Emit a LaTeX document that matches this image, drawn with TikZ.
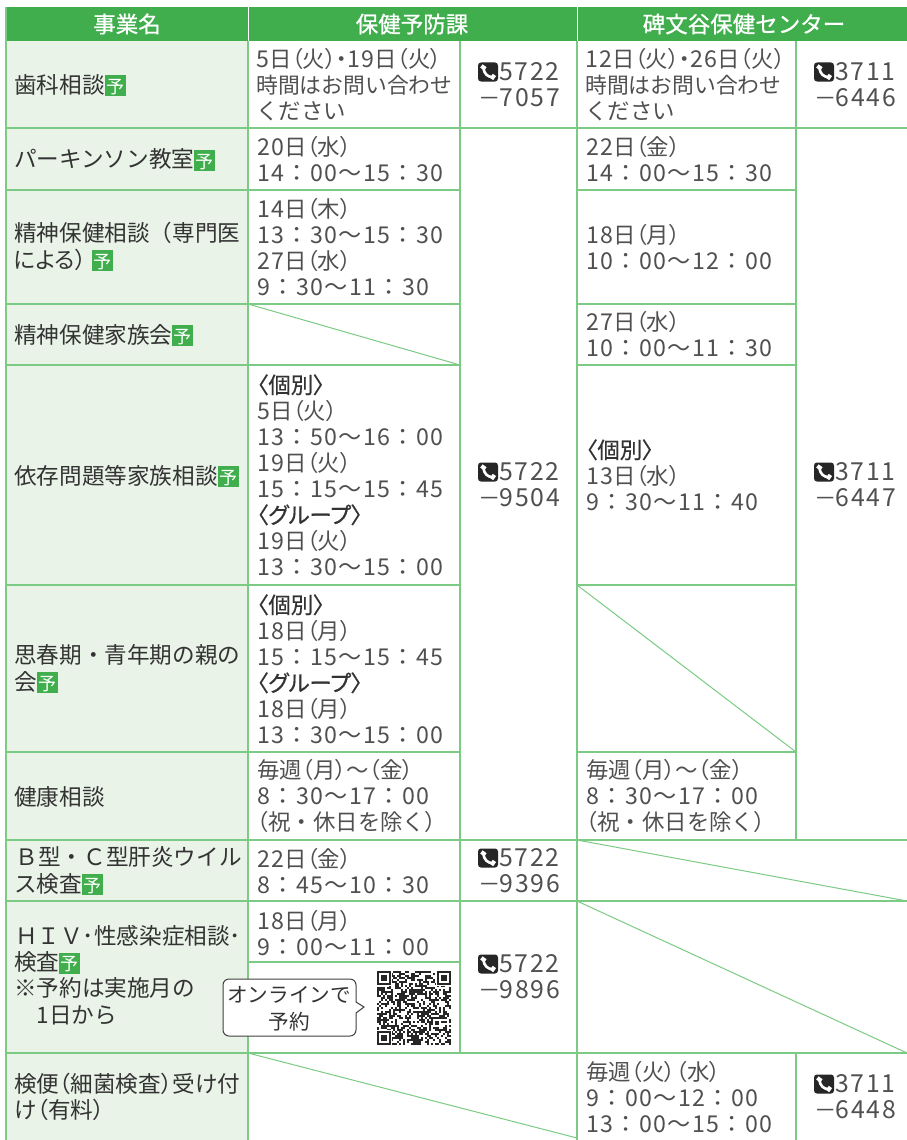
\documentclass[tikz,border=0pt]{standalone}
\usepackage{fontspec}
\setmainfont{Noto Sans CJK JP}
\newfontfamily\cjk{Noto Sans CJK JP}
\newfontfamily\palt[RawFeature=+palt]{Noto Sans CJK JP}
\newfontfamily\paltb[RawFeature=+palt,FakeBold=0.6]{Noto Sans CJK JP}
\newfontfamily\headf[FakeBold=0.8]{Noto Sans CJK JP}
\newfontfamily\numf[LetterSpace=6]{Noto Sans CJK JP}
\newfontfamily\telf[LetterSpace=7]{Noto Sans CJK JP}
\definecolor{hdr}{HTML}{40AE4C}
\definecolor{grid}{HTML}{7CCB84}
\definecolor{lab}{HTML}{E9F3E8}
\definecolor{ink}{HTML}{333333}
\definecolor{soft}{HTML}{505050}
\newcommand{\yo}{\raisebox{-3pt}{\setlength{\fboxsep}{0pt}\colorbox{hdr}{\makebox[21pt]{\rule{0pt}{21pt}\raisebox{2.6pt}{\color{white}\fontsize{18}{18}\selectfont 予}}}}}
\newcommand{\num}[1]{{\fontsize{23.2}{26}\selectfont\numf #1}}
\newcommand{\dt}[2]{{\fontsize{23.2}{26}\selectfont\numf #1}{\palt 日（#2）}}
\newcommand{\gb}[1]{{\color{ink}\paltb #1}}
\newcommand{\tel}[2]{\hspace{21pt}{\fontsize{24.8}{26}\selectfont\telf #1}\\{\palt －}\hspace{-1pt}{\fontsize{24.8}{26}\selectfont\telf #2}}
\newcommand{\ask}{{\fontsize{21.8}{26}\selectfont 時間はお問い合わせ}\\ください}
\tikzset{
 x=1pt,y=-1pt,
 gridline/.style={draw=grid,line width=1.3pt},
 labeltext/.style={anchor=west,inner sep=0pt,align=left,text=ink,font=\fontsize{22.6}{26.4}\selectfont},
 celltext/.style={anchor=west,inner sep=0pt,align=left,text=soft,font=\fontsize{22.4}{26}\selectfont},
 headtext/.style={anchor=center,inner sep=0pt,text=white,font=\fontsize{22.5}{24}\selectfont\headf},
 calltext/.style={anchor=center,inner sep=0pt,align=center,text=ink,font=\fontsize{20.6}{27}\selectfont},
 phonepic/.pic={
   \fill[black!85,rounded corners=3pt] (0,-9.5) rectangle (20,9.5);
   \draw[white,line width=2.6pt,line cap=round] (5.2,-4.6) .. controls (6,2) and (10,5.5) .. (15.2,5);
   \fill[white,rotate around={-35:(5.4,-4.6)}] (2.9,-6.6) rectangle (7.9,-2.6);
   \fill[white,rotate around={-35:(15,5)}] (13,2.5) rectangle (17,7.5);
 }
}
\begin{document}
\begin{tikzpicture}
\useasboundingbox (0,0) rectangle (907,1140);
\fill[white] (0,0) rectangle (907,1140);
% header and label column
\fill[hdr] (6,7) rectangle (907,41);
\fill[lab] (6,41) rectangle (248,1140);
% grid
\draw[gridline] (6,7) -- (6,1140);
\draw[gridline] (248,41) -- (248,1140);
\draw[gridline] (460,41) -- (460,1053);
\draw[gridline] (577,41) -- (577,1140);
\draw[gridline] (796,41) -- (796,840);
\draw[gridline] (796,1053) -- (796,1140);
\draw[white,line width=.8pt] (248,7) -- (248,41);
\draw[white,line width=.8pt] (577,7) -- (577,41);
\foreach \yy in {128,840,901,1053} \draw[gridline] (6,\yy) -- (907,\yy);
\foreach \yy in {190,304,365,585,752} {\draw[gridline] (6,\yy) -- (460,\yy); \draw[gridline] (577,\yy) -- (796,\yy);}
\draw[gridline] (248,962) -- (460,962);
% diagonals
\draw[gridline,line width=1pt] (248,304) -- (460,365);
\draw[gridline,line width=1pt] (577,585) -- (796,752);
\draw[gridline,line width=1pt] (577,840) -- (907,901);
\draw[gridline,line width=1pt] (577,901) -- (907,1053);
\draw[gridline,line width=1pt] (248,1053) -- (577,1138);
% headers
\node[headtext] (h1) at (127,24) {事業名};
\node[headtext] (h2) at (412,24) {保健予防課};
\node[headtext] (h3) at (744,24) {碑文谷保健センター};
% label column
\node[labeltext] (a1) at (14,85) {歯科相談\yo};
\node[labeltext] (a2) at (14,160) {パーキンソン教室\yo};
\node[labeltext] (a3) at (14,247) {精神保健相談（専門医\\{\palt による）}\hspace{5pt}\yo};
\node[labeltext] (a4) at (14,335) {精神保健家族会\yo};
\node[labeltext] (a5) at (14,476) {依存問題等家族相談\yo};
\node[labeltext] (a6) at (14,669) {思春期・青年期の親の\\会\yo};
\node[labeltext] (a7) at (14,797) {健康相談};
\node[labeltext] (a8) at (14,871) {\hspace{1.5pt}Ｂ型・Ｃ型肝炎ウイル\\ス検査\yo};
\node[labeltext] (a9) at (14,975) {\hspace{1pt}ＨＩＶ･性感染症相談･\\検査\yo\\※予約は実施月の\\　1日から};
\node[labeltext] (a10) at (14,1097) {検便{\palt （}細菌検査{\palt ）}受け付\\け{\palt （}有料{\palt ）}};
% public health prevention section
\node[celltext] (b1) at (256,85) {\dt{5}{火}{\palt ・}\dt{19}{火}\\\ask};
\node[celltext] (b2) at (257,159) {\dt{20}{水}\\\num{14：00～15：30}};
\node[celltext] (b3) at (257,247) {\dt{14}{木}\\\num{13：30～15：30}\\\dt{27}{水}\\\num{9：30～11：30}};
\node[celltext] (b5) at (257,475) {\gb{〈個別〉}\\\dt{5}{火}\\\num{13：50～16：00}\\\dt{19}{火}\\\num{15：15～15：45}\\\gb{〈グループ〉}\\\dt{19}{火}\\\num{13：30～15：00}};
\node[celltext] (b6) at (257,669) {\gb{〈個別〉}\\\dt{18}{月}\\\num{15：15～15：45}\\\gb{〈グループ〉}\\\dt{18}{月}\\\num{13：30～15：00}};
\node[celltext] (b7) at (257,796) {{\palt 毎週（月）～（金）}\\\num{8：30～17：00}\\{\palt （}祝・休日を除く{\palt ）}};
\node[celltext] (b8) at (257,871) {\dt{22}{金}\\\num{8：45～10：30}};
\node[celltext] (b9) at (257,933) {\dt{18}{月}\\\num{9：00～11：00}};
% phones, centre
\pic at (478,72) {phonepic};
\pic at (478,472) {phonepic};
\pic at (478,858) {phonepic};
\pic at (478,964) {phonepic};
\node[celltext] (c1) at (478,85) {\tel{5722}{7057}};
\node[celltext] (c2) at (478,485) {\tel{5722}{9504}};
\node[celltext] (c3) at (478,871) {\tel{5722}{9396}};
\node[celltext] (c4) at (478,977) {\tel{5722}{9896}};
% Himonya section
\node[celltext] (d1) at (585,85) {\dt{12}{火}{\palt ・}\dt{26}{火}\\\ask};
\node[celltext] (d2) at (586,159) {\dt{22}{金}\\\num{14：00～15：30}};
\node[celltext] (d3) at (586,247) {\dt{18}{月}\\\num{10：00～12：00}};
\node[celltext] (d4) at (586,334) {\dt{27}{水}\\\num{10：00～11：30}};
\node[celltext] (d5) at (586,475) {\gb{〈個別〉}\\\dt{13}{水}\\\num{9：30～11：40}};
\node[celltext] (d7) at (586,796) {{\palt 毎週（月）～（金）}\\\num{8：30～17：00}\\{\palt （}祝・休日を除く{\palt ）}};
\node[celltext] (d8) at (586,1097) {{\palt 毎週（火）（水）}\\\num{9：00～12：00}\\\num{13：00～15：00}};
% phones, right
\pic at (814,72) {phonepic};
\pic at (814,472) {phonepic};
\pic at (814,1084) {phonepic};
\node[celltext] (e1) at (814,85) {\tel{3711}{6446}};
\node[celltext] (e2) at (814,485) {\tel{3711}{6447}};
\node[celltext] (e3) at (814,1097) {\tel{3711}{6448}};
% callout
\draw[fill=white,draw=black!75,line width=1pt,rounded corners=6pt,sharp corners] (356,1002) -- (364,1007) -- (356,1013) [rounded corners=6pt] -- (356,1036) -- (223,1036) -- (223,979) -- (356,979) -- (356,1002);
\node[calltext] (co) at (289,1009) {オンラインで\\予約};
% QR code
\pgfmathsetseed{20240}
\begin{scope}[shift={(377,971)}]
\fill[white] (0,0) rectangle (74,74);
\foreach \i in {0,...,36}{\foreach \j in {0,...,36}{
  \pgfmathparse{rnd<0.52?1:0}
  \ifnum\pgfmathresult=1\relax\fill[black!85] (2*\i,2*\j) rectangle +(2.05,2.05);\fi
}}
\foreach \ox/\oy in {0/0,60/0,0/60}{
  \fill[white] (\ox-0.01,\oy-0.01) ++(-1,-1) rectangle ++(16,16);
  \fill[black!85] (\ox,\oy) rectangle ++(14,14);
  \fill[white] (\ox+2,\oy+2) rectangle ++(10,10);
  \fill[black!85] (\ox+4,\oy+4) rectangle ++(6,6);
}
\end{scope}
\end{tikzpicture}
\end{document}
